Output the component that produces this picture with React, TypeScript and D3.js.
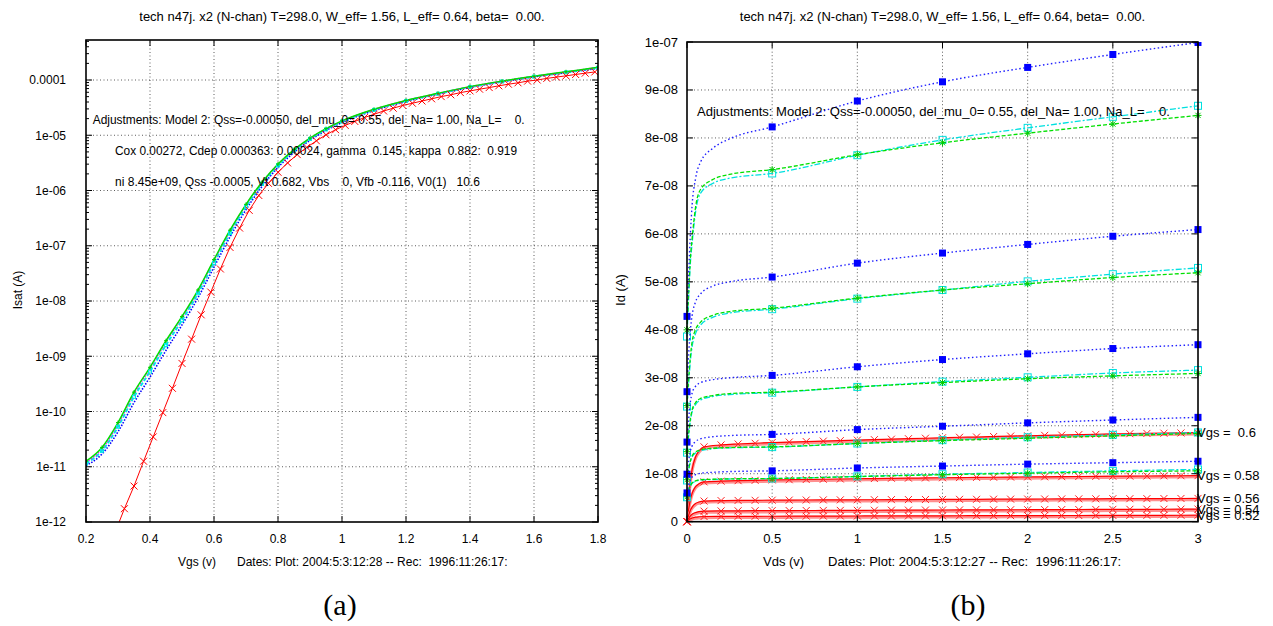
import React from 'react';
import * as d3 from 'd3';

// ---------- texts ----------
const titleText = 'tech n47j. x2 (N-chan) T=298.0, W_eff= 1.56, L_eff= 0.64, beta=  0.00.';
const adjText = 'Adjustments: Model 2: Qss=-0.00050, del_mu_0= 0.55, del_Na= 1.00, Na_L=    0.';
const coxText = 'Cox 0.00272, Cdep 0.000363: 0.00024, gamma  0.145, kappa  0.882:  0.919';
const niText = 'ni 8.45e+09, Qss -0.0005, Vt 0.682, Vbs    0, Vfb -0.116, V0(1)   10.6';
const datesA = 'Dates: Plot: 2004:5:3:12:28 -- Rec:  1996:11:26:17:';
const datesB = 'Dates: Plot: 2004:5:3:12:27 -- Rec:  1996:11:26:17:';

// ---------- panel (a): Isat vs Vgs ----------
const vgsTicks = [0.2, 0.4, 0.6, 0.8, 1, 1.2, 1.4, 1.6, 1.8];
const vgsTickLabels = ['0.2', '0.4', '0.6', '0.8', '1', '1.2', '1.4', '1.6', '1.8'];
const isatTicks = [1e-12, 1e-11, 1e-10, 1e-9, 1e-8, 1e-7, 1e-6, 1e-5, 1e-4];
const isatTickLabels = ['1e-12', '1e-11', '1e-10', '1e-09', '1e-08', '1e-07', '1e-06', '1e-05', '0.0001'];
const isatMin = 1e-12;
const isatMax = 5.3e-4;

const vgsModel = [0.2, 0.25, 0.3, 0.35, 0.4, 0.45, 0.5, 0.55, 0.6, 0.65, 0.7, 0.75, 0.8, 0.85, 0.9, 0.95, 1.0, 1.1, 1.2, 1.3, 1.4, 1.5, 1.6, 1.7, 1.8];
const isatGreen = [1.26e-11, 2.24e-11, 6.31e-11, 2.24e-10, 6.31e-10, 1.91e-9, 5.25e-9, 1.58e-8, 5.62e-8, 1.91e-7, 5.62e-7, 1.41e-6, 3.02e-6, 5.5e-6, 8.91e-6, 1.32e-5, 1.82e-5, 2.95e-5, 4.27e-5, 5.75e-5, 7.59e-5, 9.55e-5, 1.17e-4, 1.41e-4, 1.7e-4];
const isatMagenta = [1.2e-11, 2.1e-11, 5.9e-11, 2.1e-10, 6.0e-10, 1.82e-9, 5.0e-9, 1.52e-8, 5.4e-8, 1.85e-7, 5.5e-7, 1.39e-6, 2.98e-6, 5.45e-6, 8.85e-6, 1.31e-5, 1.81e-5, 2.93e-5, 4.25e-5, 5.72e-5, 7.55e-5, 9.5e-5, 1.165e-4, 1.4e-4, 1.69e-4];
const isatCyan = [1.15e-11, 1.95e-11, 5.3e-11, 1.85e-10, 5.3e-10, 1.6e-9, 4.5e-9, 1.38e-8, 4.9e-8, 1.7e-7, 5.1e-7, 1.31e-6, 2.85e-6, 5.25e-6, 8.6e-6, 1.28e-5, 1.77e-5, 2.88e-5, 4.18e-5, 5.65e-5, 7.45e-5, 9.4e-5, 1.15e-4, 1.38e-4, 1.66e-4];
const isatBlue = [1.05e-11, 1.7e-11, 4.3e-11, 1.45e-10, 4.2e-10, 1.28e-9, 3.7e-9, 1.15e-8, 4.1e-8, 1.45e-7, 4.5e-7, 1.18e-6, 2.62e-6, 4.9e-6, 8.1e-6, 1.22e-5, 1.7e-5, 2.8e-5, 4.08e-5, 5.55e-5, 7.35e-5, 9.3e-5, 1.14e-4, 1.36e-4, 1.62e-4];

const vgsMeas = [0.29, 0.32, 0.35, 0.38, 0.41, 0.44, 0.47, 0.5, 0.53, 0.56, 0.59, 0.62, 0.65, 0.68, 0.71, 0.74, 0.77, 0.8, 0.83, 0.86, 0.89, 0.92, 0.95, 0.98, 1.01, 1.04, 1.07, 1.1, 1.13, 1.16, 1.19, 1.22, 1.25, 1.28, 1.31, 1.34, 1.37, 1.4, 1.43, 1.46, 1.49, 1.52, 1.55, 1.58, 1.61, 1.64, 1.67, 1.7, 1.73, 1.76, 1.79];
const isatRed = [6.3e-13, 1.74e-12, 4.47e-12, 1.26e-11, 3.47e-11, 9.55e-11, 2.63e-10, 7.41e-10, 2.04e-9, 5.62e-9, 1.45e-8, 3.8e-8, 9.33e-8, 2.09e-7, 4.37e-7, 8.13e-7, 1.35e-6, 2.14e-6, 3.16e-6, 4.47e-6, 6.03e-6, 7.94e-6, 1.02e-5, 1.26e-5, 1.51e-5, 1.78e-5, 2.09e-5, 2.4e-5, 2.75e-5, 3.09e-5, 3.47e-5, 3.8e-5, 4.17e-5, 4.57e-5, 5.01e-5, 5.4e-5, 5.92e-5, 6.35e-5, 6.82e-5, 7.3e-5, 7.85e-5, 8.4e-5, 8.9e-5, 9.55e-5, 1.0e-4, 1.07e-4, 1.13e-4, 1.19e-4, 1.26e-4, 1.33e-4, 1.4e-4];

// ---------- panel (b): Id vs Vds (Id in nA) ----------
const vdsTicks = [0, 0.5, 1, 1.5, 2, 2.5, 3];
const vdsTickLabels = ['0', '0.5', '1', '1.5', '2', '2.5', '3'];
const idTicks = [0, 10, 20, 30, 40, 50, 60, 70, 80, 90, 100];
const idTickLabels = ['0', '1e-08', '2e-08', '3e-08', '4e-08', '5e-08', '6e-08', '7e-08', '8e-08', '9e-08', '1e-07'];

const vdsModel = [0, 0.01, 0.02, 0.03, 0.05, 0.08, 0.15, 0.25, 0.5, 1, 1.5, 2, 2.5, 3];
const idBlueA = [42.8, 52, 60, 66, 71.5, 75, 77.8, 79.8, 82.3, 87.7, 91.7, 94.7, 97.4, 99.9];
const idBlueB = [27.1, 35, 40, 43, 45.8, 47.5, 49.1, 50, 51, 53.9, 56, 57.8, 59.5, 60.9];
const idBlueC = [16.6, 21.5, 25, 26.8, 28.2, 29, 29.6, 30, 30.5, 32.3, 33.8, 35, 36.1, 36.9];
const idBlueD = [9.9, 12.8, 14.8, 15.8, 16.7, 17.3, 17.7, 17.95, 18.2, 19.2, 19.9, 20.6, 21.2, 21.75];
const idBlueE = [6.0, 7.6, 8.7, 9.3, 9.8, 10.1, 10.3, 10.45, 10.6, 11.2, 11.6, 12.0, 12.3, 12.6];
const idGreenA = [40, 48, 55, 59, 65.5, 69.3, 71.3, 72.4, 73.4, 76.5, 79, 81, 82.9, 84.7];
const idGreenB = [24.2, 30, 34.5, 37.5, 40, 41.6, 43, 43.8, 44.5, 46.6, 48.3, 49.6, 50.9, 51.9];
const idGreenC = [14.6, 18.5, 21.5, 23.3, 24.8, 25.7, 26.3, 26.7, 27.0, 28.1, 29.0, 29.8, 30.4, 30.9];
const idGreenD = [8.75, 11, 12.7, 13.7, 14.5, 15, 15.3, 15.45, 15.6, 16.3, 16.9, 17.4, 17.9, 18.4];
const idGreenE = [5.2, 6.6, 7.5, 8.1, 8.5, 8.75, 8.85, 8.93, 9.0, 9.4, 9.8, 10.1, 10.4, 10.6];
const idCyanA = [38.6, 47, 54, 58, 64.5, 68.5, 70.5, 71.6, 72.6, 76.4, 79.6, 82.1, 84.4, 86.7];
const idCyanB = [24.0, 29, 33.5, 36.5, 39.2, 41, 42.6, 43.5, 44.3, 46.5, 48.3, 50.1, 51.6, 52.9];
const idCyanC = [14.4, 18, 21, 22.9, 24.4, 25.4, 26.1, 26.5, 26.9, 28.1, 29.2, 30.1, 31.0, 31.6];
const idCyanD = [8.6, 10.8, 12.5, 13.5, 14.3, 14.8, 15.2, 15.4, 15.55, 16.3, 17.0, 17.6, 18.1, 18.6];
const idCyanE = [5.1, 6.5, 7.4, 8.0, 8.4, 8.7, 8.8, 8.9, 9.0, 9.45, 9.9, 10.25, 10.6, 10.9];

const vdsMeas = [0, 0.01, 0.02, 0.03, 0.05, 0.07, 0.1, 0.2, 0.3, 0.4, 0.5, 0.6, 0.7, 0.8, 0.9, 1.0, 1.1, 1.2, 1.3, 1.4, 1.5, 1.6, 1.7, 1.8, 1.9, 2.0, 2.1, 2.2, 2.3, 2.4, 2.5, 2.6, 2.7, 2.8, 2.9, 3.0];
const vgsLabels = ['Vgs =  0.6', 'Vgs = 0.58', 'Vgs = 0.56', 'Vgs = 0.54', 'Vgs = 0.52'];
const idRed060 = [0, 5.0, 8.5, 10.9, 13.5, 14.7, 15.6, 16.0, 16.2, 16.35, 16.5, 16.6, 16.7, 16.8, 16.9, 17.0, 17.1, 17.2, 17.3, 17.4, 17.5, 17.6, 17.65, 17.75, 17.85, 17.9, 18.0, 18.05, 18.15, 18.2, 18.3, 18.35, 18.4, 18.45, 18.5, 18.55];
const idRed058 = [0, 2.7, 4.6, 5.9, 7.3, 7.9, 8.3, 8.45, 8.55, 8.62, 8.7, 8.75, 8.8, 8.85, 8.9, 8.95, 9.0, 9.05, 9.08, 9.12, 9.16, 9.2, 9.24, 9.27, 9.3, 9.33, 9.36, 9.39, 9.42, 9.45, 9.48, 9.5, 9.53, 9.56, 9.58, 9.6];
const idRed056 = [0, 1.4, 2.4, 3.05, 3.8, 4.1, 4.3, 4.4, 4.43, 4.46, 4.48, 4.5, 4.52, 4.54, 4.55, 4.57, 4.58, 4.6, 4.61, 4.63, 4.64, 4.66, 4.67, 4.69, 4.7, 4.72, 4.73, 4.75, 4.76, 4.77, 4.79, 4.8, 4.81, 4.83, 4.84, 4.85];
const idRed054 = [0, 0.7, 1.2, 1.55, 1.9, 2.1, 2.2, 2.25, 2.27, 2.29, 2.3, 2.32, 2.33, 2.35, 2.36, 2.37, 2.39, 2.4, 2.41, 2.43, 2.44, 2.45, 2.47, 2.48, 2.49, 2.5, 2.52, 2.53, 2.54, 2.55, 2.57, 2.58, 2.59, 2.6, 2.62, 2.63];
const idRed052 = [0, 0.35, 0.6, 0.77, 0.95, 1.03, 1.08, 1.11, 1.12, 1.13, 1.14, 1.15, 1.16, 1.17, 1.18, 1.19, 1.2, 1.2, 1.21, 1.22, 1.23, 1.24, 1.25, 1.25, 1.26, 1.27, 1.28, 1.29, 1.29, 1.3, 1.31, 1.32, 1.32, 1.33, 1.34, 1.35];

// ---------- helpers ----------
const FONT = 'Liberation Sans, Arial, Helvetica, sans-serif';

type Pt = [number, number];
const zip = (xs: number[], ys: number[]): Pt[] => xs.map((x, i) => [x, ys[i]]);

function Mark({ kind, x, y, color, s }: { kind: string; x: number; y: number; color: string; s: number }) {
  const h = s / 2;
  if (kind === 'x') return <path d={`M${x - h},${y - h}L${x + h},${y + h}M${x - h},${y + h}L${x + h},${y - h}`} stroke={color} strokeWidth={1} fill="none" />;
  if (kind === '+') return <path d={`M${x - h},${y}L${x + h},${y}M${x},${y - h}L${x},${y + h}`} stroke={color} strokeWidth={1} fill="none" />;
  if (kind === '*') return <path d={`M${x - h},${y}L${x + h},${y}M${x},${y - h}L${x},${y + h}M${x - h * 0.75},${y - h * 0.75}L${x + h * 0.75},${y + h * 0.75}M${x - h * 0.75},${y + h * 0.75}L${x + h * 0.75},${y - h * 0.75}`} stroke={color} strokeWidth={1} fill="none" />;
  if (kind === 'fs') return <rect x={x - h} y={y - h} width={s} height={s} fill={color} />;
  if (kind === 'os') return <rect x={x - h} y={y - h} width={s} height={s} fill="none" stroke={color} strokeWidth={1} />;
  return null;
}

const gridStyle = { stroke: '#333', strokeWidth: 0.8, strokeDasharray: '1,2.5' };

function PanelA() {
  const x = d3.scaleLinear().domain([0.2, 1.8]).range([86, 598]);
  const y = d3.scaleLog().domain([isatMin, isatMax]).range([522, 40]);
  const line = d3.line<Pt>().x(d => x(d[0])).y(d => y(d[1])).curve(d3.curveMonotoneX);
  const lineLin = d3.line<Pt>().x(d => x(d[0])).y(d => y(d[1]));
  const [x0, x1] = x.range();
  const [yb, yt] = y.range();
  const minor: number[] = [];
  for (let e = -12; e <= -4; e++) for (let k = 2; k <= 9; k++) { const v = k * Math.pow(10, e); if (v < isatMax) minor.push(v); }
  const green = zip(vgsModel, isatGreen), mag = zip(vgsModel, isatMagenta), cyan = zip(vgsModel, isatCyan), blue = zip(vgsModel, isatBlue), red = zip(vgsMeas, isatRed);
  return (
    <g fontFamily={FONT} fontSize={12}>
      <defs><clipPath id="clipA"><rect x={x0} y={yt} width={x1 - x0} height={yb - yt} /></clipPath></defs>
      <text x={(x0 + x1) / 2} y={20.5} textAnchor="middle" fontSize={13} xmlSpace="preserve" style={{ whiteSpace: 'pre' }}>{titleText}</text>
      {vgsTicks.slice(1, -1).map(t => <line key={'gx' + t} x1={x(t)} x2={x(t)} y1={yb} y2={yt} style={gridStyle} />)}
      {isatTicks.slice(1).map(t => <line key={'gy' + t} x1={x0} x2={x1} y1={y(t)} y2={y(t)} style={gridStyle} />)}
      <g clipPath="url(#clipA)">
        <path d={line(blue) || ''} fill="none" stroke="#0000ff" strokeWidth={1.6} strokeDasharray="1.5,1.5" />
        <path d={line(cyan) || ''} fill="none" stroke="#00e8e8" strokeWidth={2} strokeDasharray="4,2" />
        <path d={line(mag) || ''} fill="none" stroke="#ff00ff" strokeWidth={1.4} strokeDasharray="1.5,1.5" />
        <path d={line(green) || ''} fill="none" stroke="#00e000" strokeWidth={1.5} />
        {cyan.map((p, i) => <Mark key={'mc' + i} kind="os" x={x(p[0])} y={y(p[1])} color="#00e8e8" s={3} />)}
        {green.map((p, i) => <Mark key={'mg' + i} kind="+" x={x(p[0])} y={y(p[1])} color="#00d000" s={4} />)}
        <path d={lineLin(red) || ''} fill="none" stroke="#ff0000" strokeWidth={1} />
        {red.map((p, i) => <Mark key={'mr' + i} kind="x" x={x(p[0])} y={y(p[1])} color="#ff0000" s={7} />)}
      </g>
      <text x={92.7} y={124} textLength={432} lengthAdjust="spacingAndGlyphs" xmlSpace="preserve" style={{ whiteSpace: 'pre' }}>{adjText}</text>
      <text x={115} y={155} textLength={402} lengthAdjust="spacingAndGlyphs" xmlSpace="preserve" style={{ whiteSpace: 'pre' }}>{coxText}</text>
      <text x={115} y={185.5} textLength={365} lengthAdjust="spacingAndGlyphs" xmlSpace="preserve" style={{ whiteSpace: 'pre' }}>{niText}</text>
      {vgsTicks.map(t => (
        <g key={'tx' + t}>
          <line x1={x(t)} x2={x(t)} y1={yb} y2={yb - 6} stroke="#000" />
          <line x1={x(t)} x2={x(t)} y1={yt} y2={yt + 6} stroke="#000" />
        </g>
      ))}
      {isatTicks.map(t => (
        <g key={'ty' + t}>
          <line x1={x0} x2={x0 + 6} y1={y(t)} y2={y(t)} stroke="#000" />
          <line x1={x1} x2={x1 - 6} y1={y(t)} y2={y(t)} stroke="#000" />
        </g>
      ))}
      {minor.map(t => (
        <g key={'mt' + t}>
          <line x1={x0} x2={x0 + 3} y1={y(t)} y2={y(t)} stroke="#000" />
          <line x1={x1} x2={x1 - 3} y1={y(t)} y2={y(t)} stroke="#000" />
        </g>
      ))}
      <rect x={x0} y={yt} width={x1 - x0} height={yb - yt} fill="none" stroke="#000" strokeWidth={1.6} />
      {vgsTicks.map((t, i) => <text key={'lx' + t} x={x(t)} y={542.5} textAnchor="middle">{vgsTickLabels[i]}</text>)}
      {isatTicks.map((t, i) => <text key={'ly' + t} x={66} y={y(t) + 4.3} textAnchor="end">{isatTickLabels[i]}</text>)}
      <text transform="translate(22,290) rotate(-90)" textAnchor="middle">Isat (A)</text>
      <text x={178} y={566}>Vgs (v)</text>
      <text x={237} y={566} xmlSpace="preserve" style={{ whiteSpace: 'pre' }}>{datesA}</text>
      <text x={340} y={615} textAnchor="middle" fontFamily="Liberation Serif, DejaVu Serif, serif" fontSize={30}>(a)</text>
    </g>
  );
}

function PanelB() {
  const x = d3.scaleLinear().domain([0, 3]).range([687, 1198]);
  const y = d3.scaleLinear().domain([0, 100]).range([521.7, 42]);
  const line = d3.line<Pt>().x(d => x(d[0])).y(d => y(d[1])).curve(d3.curveMonotoneX);
  const [x0, x1] = x.range();
  const [yb, yt] = y.range();
  const blues = [idBlueA, idBlueB, idBlueC, idBlueD, idBlueE];
  const greens = [idGreenA, idGreenB, idGreenC, idGreenD, idGreenE];
  const cyans = [idCyanA, idCyanB, idCyanC, idCyanD, idCyanE];
  const reds = [idRed060, idRed058, idRed056, idRed054, idRed052];
  const isHalf = (v: number) => Math.abs(v * 2 - Math.round(v * 2)) < 1e-9;
  const isTenth = (v: number) => Math.abs(v * 10 - Math.round(v * 10)) < 1e-9;
  return (
    <g fontFamily={FONT} fontSize={13}>
      <defs><clipPath id="clipB"><rect x={x0 - 6} y={yt} width={x1 - x0 + 12} height={yb - yt + 6} /></clipPath></defs>
      <text x={(x0 + x1) / 2} y={21} textAnchor="middle" xmlSpace="preserve" style={{ whiteSpace: 'pre' }}>{titleText}</text>
      {vdsTicks.slice(1, -1).map(t => <line key={'gx' + t} x1={x(t)} x2={x(t)} y1={yb} y2={yt} style={gridStyle} />)}
      {idTicks.slice(1, -1).map(t => <line key={'gy' + t} x1={x0} x2={x1} y1={y(t)} y2={y(t)} style={gridStyle} />)}
      <g clipPath="url(#clipB)">
        {reds.map((r, k) => {
          const pts = zip(vdsMeas, r);
          return (
            <g key={'r' + k}>
              <path d={line(pts) || ''} fill="none" stroke="#ff9090" strokeWidth={3} transform="translate(0,1.2)" />
              <path d={line(pts) || ''} fill="none" stroke="#ff0000" strokeWidth={1.2} />
              {pts.filter(p => isTenth(p[0])).map((p, i) => <Mark key={i} kind="x" x={x(p[0])} y={y(p[1])} color="#ff2020" s={7} />)}
            </g>
          );
        })}
        {cyans.map((r, k) => {
          const pts = zip(vdsModel, r);
          return (
            <g key={'c' + k}>
              <path d={line(pts) || ''} fill="none" stroke="#00e0e0" strokeWidth={1.3} strokeDasharray="6,2,2,2" />
              {pts.filter(p => isHalf(p[0])).map((p, i) => <Mark key={i} kind="os" x={x(p[0])} y={y(p[1])} color="#00e0e0" s={7} />)}
            </g>
          );
        })}
        {greens.map((r, k) => {
          const pts = zip(vdsModel, r);
          return (
            <g key={'g' + k}>
              <path d={line(pts) || ''} fill="none" stroke="#00e000" strokeWidth={1.3} strokeDasharray="4,2" />
              {pts.filter(p => isHalf(p[0])).map((p, i) => <Mark key={i} kind="*" x={x(p[0])} y={y(p[1])} color="#00cc00" s={7} />)}
            </g>
          );
        })}
        {blues.map((r, k) => {
          const pts = zip(vdsModel, r);
          return (
            <g key={'b' + k}>
              <path d={line(pts) || ''} fill="none" stroke="#2020ff" strokeWidth={1.4} strokeDasharray="1.5,2.5" />
              {pts.filter(p => isHalf(p[0])).map((p, i) => <Mark key={i} kind="fs" x={x(p[0])} y={y(p[1])} color="#0000ff" s={7} />)}
            </g>
          );
        })}
      </g>
      <text x={697} y={115.5} textLength={473} lengthAdjust="spacingAndGlyphs" xmlSpace="preserve" style={{ whiteSpace: 'pre' }}>{adjText}</text>
      {vdsTicks.map(t => (
        <g key={'tx' + t}>
          <line x1={x(t)} x2={x(t)} y1={yb} y2={yb - 6} stroke="#000" />
          <line x1={x(t)} x2={x(t)} y1={yt} y2={yt + 6} stroke="#000" />
        </g>
      ))}
      {idTicks.map(t => (
        <g key={'ty' + t}>
          <line x1={x0} x2={x0 + 6} y1={y(t)} y2={y(t)} stroke="#000" />
          <line x1={x1} x2={x1 - 6} y1={y(t)} y2={y(t)} stroke="#000" />
        </g>
      ))}
      <rect x={x0} y={yt} width={x1 - x0} height={yb - yt} fill="none" stroke="#000" strokeWidth={1.6} />
      {vdsTicks.map((t, i) => <text key={'lx' + t} x={x(t)} y={543} textAnchor="middle">{vdsTickLabels[i]}</text>)}
      {idTicks.map((t, i) => <text key={'ly' + t} x={678} y={y(t) + 4.5} textAnchor="end">{idTickLabels[i]}</text>)}
      {reds.map((r, k) => (
        <text key={'vl' + k} x={1197} y={y(r[r.length - 1]) + 4.5} xmlSpace="preserve" style={{ whiteSpace: 'pre' }}>{vgsLabels[k]}</text>
      ))}
      <text transform="translate(625,290) rotate(-90)" textAnchor="middle">Id (A)</text>
      <text x={763} y={566}>Vds (v)</text>
      <text x={828} y={566} xmlSpace="preserve" style={{ whiteSpace: 'pre' }}>{datesB}</text>
      <text x={968} y={615} textAnchor="middle" fontFamily="Liberation Serif, DejaVu Serif, serif" fontSize={30}>(b)</text>
    </g>
  );
}

export default function App() {
  return (
    <svg width={1273} height={626} style={{ position: 'absolute', left: 0, top: 0, background: '#fff' }}>
      <rect x={0} y={0} width={1273} height={626} fill="#fff" />
      <PanelA />
      <PanelB />
    </svg>
  );
}
